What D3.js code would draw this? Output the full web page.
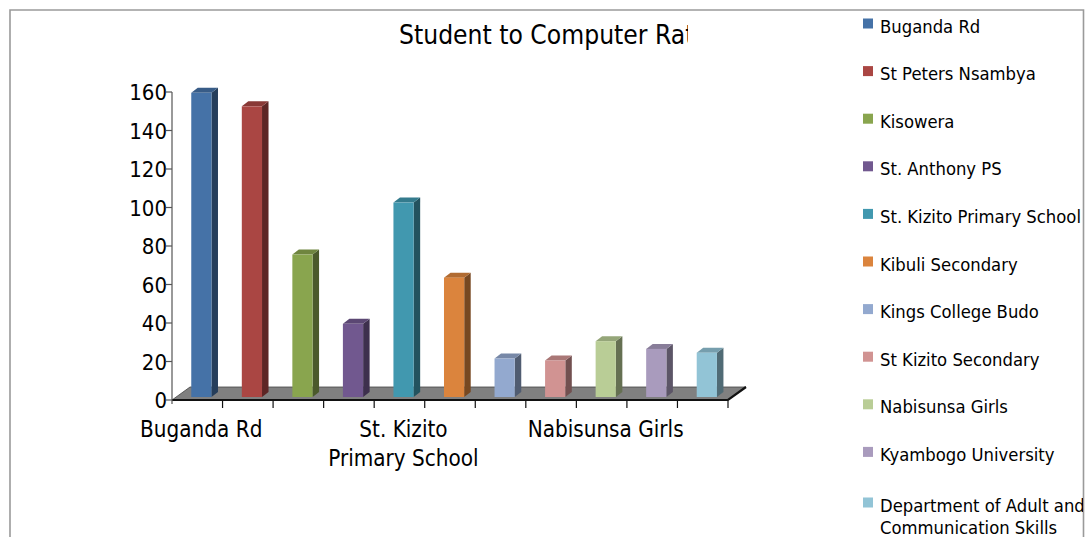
<!DOCTYPE html>
<html>
<head>
<meta charset="utf-8">
<script src="https://cdn.jsdelivr.net/npm/d3@7"></script>
<style>
  html, body { margin: 0; padding: 0; background: #fff; }
  svg { display: block; }
  text { font-family: "DejaVu Sans Condensed", "DejaVu Sans", sans-serif; fill: #000; }
</style>
</head>
<body>
<svg id="chart" width="1086" height="537"></svg>
<script>
const categories = [
  "Buganda Rd", "St Peters Nsambya", "Kisowera", "St. Anthony PS",
  "St. Kizito Primary School", "Kibuli Secondary", "Kings College Budo",
  "St Kizito Secondary", "Nabisunsa Girls", "Kyambogo University",
  "Department of Adult and Communication Skills"
];
const values = [158, 151, 74, 38, 101, 62, 20, 19, 29, 25, 23];
const colors = ["#4572A7", "#AA4643", "#89A54E", "#71588F", "#4198AF", "#DB843D",
                "#93A9CF", "#D19392", "#B9CD96", "#A99BBD", "#92C4D6"];
const yTicks = [0, 20, 40, 60, 80, 100, 120, 140, 160];
const axisLabelIndex = [0, 4, 8];
const axisLabelLines = [["Buganda Rd"], ["St. Kizito", "Primary School"], ["Nabisunsa Girls"]];
const legendLines = [
  ["Buganda Rd"], ["St Peters Nsambya"], ["Kisowera"], ["St. Anthony PS"],
  ["St. Kizito Primary School"], ["Kibuli Secondary"], ["Kings College Budo"],
  ["St Kizito Secondary"], ["Nabisunsa Girls"], ["Kyambogo University"],
  ["Department of Adult and", "Communication Skills"]
];
const title = "Student to Computer Ratio";

const svg = d3.select("#chart");
const defs = svg.append("defs");
defs.append("clipPath").attr("id", "titleClip")
  .append("rect").attr("x", 0).attr("y", 0).attr("width", 688).attr("height", 80);
defs.append("clipPath").attr("id", "frameClip")
  .append("rect").attr("x", 10).attr("y", 10).attr("width", 1073).attr("height", 540);

// outer frame
svg.append("path")
  .attr("d", "M10,560 V10 H1083.5 V560")
  .attr("fill", "none").attr("stroke", "#9a9a9a").attr("stroke-width", 1.6);

const x = d3.scaleBand().domain(categories).range([172, 728]).padding(0);
const y = d3.scaleLinear().domain([0, 160]).range([400, 92]);

// 3D geometry
const floorDX = 18, floorDY = -13;
const frontDX = 4.1, frontDY = -3;
const sideDX = 6.5, sideDY = -5;
const bw = x.bandwidth();
const barW = bw * 0.4;

// title
svg.append("text")
  .attr("x", 399).attr("y", 43.5)
  .attr("font-size", 26.2)
  .attr("clip-path", "url(#titleClip)")
  .text(title);

// floor
const x0 = x.range()[0], x1 = x.range()[1], yb = y(0);
svg.append("polygon")
  .attr("points", [[x0, yb], [x1, yb], [x1 + floorDX, yb + floorDY], [x0 + floorDX, yb + floorDY]].map(p => p.join(",")).join(" "))
  .attr("fill", "#808080").attr("stroke", "#444").attr("stroke-width", 0.8);
svg.append("path")
  .attr("d", `M${x0},${yb} H${x1} L${x1 + floorDX},${yb + floorDY}`)
  .attr("fill", "none").attr("stroke", "#111").attr("stroke-width", 2.2);

// x ticks
svg.append("g").selectAll("line")
  .data(categories)
  .join("line")
  .attr("x1", d => x(d) + bw).attr("x2", d => x(d) + bw)
  .attr("y1", yb + 1).attr("y2", yb + 8)
  .attr("stroke", "#111").attr("stroke-width", 1.2);

// y axis
svg.append("line")
  .attr("x1", x0).attr("x2", x0).attr("y1", y(160)).attr("y2", yb + 4)
  .attr("stroke", "#555").attr("stroke-width", 1.2);
const yg = svg.append("g");
yg.selectAll("line").data(yTicks).join("line")
  .attr("x1", x0 - 6).attr("x2", x0).attr("y1", d => y(d)).attr("y2", d => y(d))
  .attr("stroke", "#555").attr("stroke-width", 1.2);
yg.selectAll("text").data(yTicks).join("text")
  .attr("x", x0 - 5).attr("y", d => y(d) + 8)
  .attr("text-anchor", "end").attr("font-size", 22)
  .text(d => d);

// bars
const bars = svg.append("g").selectAll("g")
  .data(values.map((v, i) => ({ v, i, c: categories[i], col: colors[i] })))
  .join("g");
bars.each(function (d) {
  const g = d3.select(this);
  const bx = x(d.c) + (bw - barW) / 2 + frontDX;
  const top = y(d.v) + frontDY;
  const bot = y(0) + frontDY;
  const col = d3.color(d.col);
  g.append("polygon")
    .attr("points", [[bx + barW, top], [bx + barW + sideDX, top + sideDY], [bx + barW + sideDX, bot + sideDY], [bx + barW, bot]].map(p => p.join(",")).join(" "))
    .attr("fill", col.darker(1.7));
  g.append("polygon")
    .attr("points", [[bx, top], [bx + barW, top], [bx + barW + sideDX, top + sideDY], [bx + sideDX, top + sideDY]].map(p => p.join(",")).join(" "))
    .attr("fill", col.darker(0.6));
  g.append("rect")
    .attr("x", bx).attr("y", top).attr("width", barW).attr("height", bot - top)
    .attr("fill", d.col);
});

// x labels
const xl = svg.append("g");
axisLabelIndex.forEach((ci, k) => {
  const cx = x(categories[ci]) + bw / 2 + 4;
  const t = xl.append("text").attr("text-anchor", "middle").attr("font-size", 22.3);
  axisLabelLines[k].forEach((line, j) => {
    t.append("tspan").attr("x", cx).attr("y", 437 + j * 29).text(line);
  });
});

// legend
const lg = svg.append("g").attr("clip-path", "url(#frameClip)");
const items = lg.selectAll("g").data(legendLines).join("g")
  .attr("transform", (d, i) => `translate(0,${32.5 + i * 47.6 + (d.length > 1 ? 3 : 0)})`);
items.append("rect")
  .attr("x", 863).attr("y", -14).attr("width", 10).attr("height", 10)
  .attr("fill", (d, i) => colors[i]);
items.append("text")
  .attr("font-size", 18.3)
  .each(function (d) {
    const t = d3.select(this);
    d.forEach((line, j) => t.append("tspan").attr("x", 880).attr("y", j * 22.5).text(line));
  });
</script>
</body>
</html>
